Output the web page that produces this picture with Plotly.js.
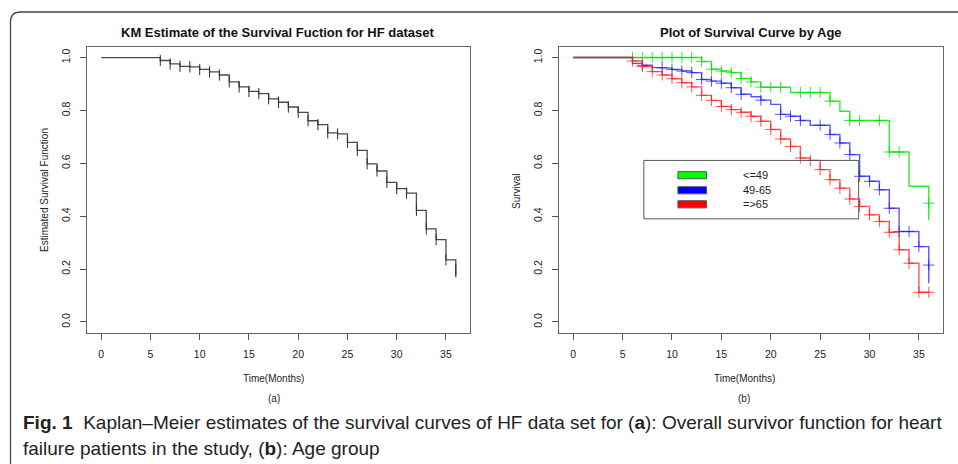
<!DOCTYPE html>
<html>
<head>
<meta charset="utf-8">
<script src="https://cdn.plot.ly/plotly-3.0.1.min.js"></script>
<style>
html,body{margin:0;padding:0;background:#fff;}
#chart{width:958px;height:464px;}
</style>
</head>
<body>
<div id="chart"></div>
<script>
// ---------- DATA ----------
// (a) overall KM estimate
const leftTimes = [0,6,7,8,9,10,11,12,13,14,15,16,17,18,19,20,21,22,23,24,25,26,27,28,29,30,31,32,33,34,35,36];
const leftSurv  = [1.0,0.989,0.976,0.967,0.965,0.955,0.946,0.934,0.908,0.889,0.872,0.864,0.844,0.831,0.813,0.793,0.761,0.746,0.715,0.711,0.679,0.649,0.598,0.571,0.528,0.504,0.487,0.422,0.352,0.311,0.235,0.169];
const leftMarks = [6,7,8,9,10,11,12,13,14,15,16,17,18,19,20,21,22,23,24,25,26,27,28,29,30,31,32,33,34,35];
const leftEndMark = 0.197;

// (b) by age group
const groupNames = ["<=49","49-65","=>65"];
const greenTimes = [0,13,14,15,16,17,18,19,22,26,27,28,32,34,36];
const greenSurv  = [1.0,0.985,0.956,0.949,0.943,0.921,0.908,0.888,0.868,0.835,0.797,0.762,0.643,0.513,0.386];
const greenMarks = [6,7,8,9,10,11,12,13,14,15,16,17,18,19,20,21,23,24,25,26,28,29,31,32,33];
const greenEndMark = 0.449;

const blueTimes = [0,6,7,8,9,10,11,12,13,14,15,16,17,18,19,20,21,22,23,24,26,27,28,29,30,31,32,33,35,36];
const blueSurv  = [1.0,0.978,0.971,0.962,0.961,0.955,0.949,0.943,0.917,0.911,0.903,0.886,0.861,0.852,0.839,0.823,0.785,0.778,0.762,0.744,0.709,0.677,0.633,0.551,0.532,0.500,0.430,0.342,0.285,0.146];
const blueMarks = [7,9,10,11,12,13,14,15,16,17,19,21,22,23,25,26,27,28,29,30,31,32,33,34,35];
const blueEndMark = 0.215;

const redTimes = [0,6,7,8,9,10,11,12,13,14,15,16,17,18,19,20,21,22,23,24,25,26,27,28,29,30,31,32,33,34,35,36];
const redSurv  = [1.0,0.987,0.966,0.947,0.934,0.920,0.905,0.889,0.857,0.838,0.815,0.803,0.793,0.778,0.759,0.728,0.692,0.664,0.620,0.611,0.576,0.538,0.506,0.465,0.437,0.405,0.380,0.339,0.273,0.222,0.112,0.112];
const redMarks = [6,7,8,9,10,11,12,13,14,15,16,17,18,19,20,21,22,23,24,25,26,27,28,29,30,31,32,33,34,35];
const redEndMark = 0.112;
const endTime = 36;

const xTicks = [0,5,10,15,20,25,30,35];
const yTicks = [0,0.2,0.4,0.6,0.8,1.0];

// ---------- helpers ----------
function stepAt(times, surv, t){
  let v = surv[0];
  for (let i=0;i<times.length;i++){ if (times[i] <= t) v = surv[i]; }
  return v;
}
const W = 958, H = 464;
const PX = p => p / W;
const PY = p => 1 - p / H;

const sans = "Liberation Sans, Arial, sans-serif";

function curve(times, surv, color, xa, ya, width){
  return {x: times, y: surv, type:'scatter', mode:'lines', line:{shape:'hv', color: color, width: width},
          xaxis: xa, yaxis: ya, hoverinfo:'skip', showlegend:false};
}
function marks(times, surv, mt, endLevel, color, xa, ya, size, symbol){
  const xs = mt.slice(); const ys = mt.map(t => stepAt(times, surv, t));
  xs.push(endTime); ys.push(endLevel);
  return {x: xs, y: ys, type:'scatter', mode:'markers', xaxis: xa, yaxis: ya, hoverinfo:'skip', showlegend:false,
          marker:{symbol:symbol, size:size, line:{color: color, width:1}}};
}

const cGreen = 'rgba(0,225,0,0.8)', cBlue = 'rgba(30,30,255,0.75)', cRed = 'rgba(255,30,30,0.75)';

const data = [
  curve(leftTimes, leftSurv, '#4a4a4a', 'x', 'y', 1.3),
  marks(leftTimes, leftSurv, leftMarks, leftEndMark, '#3a2430', 'x', 'y', 8, 'line-ns'),
  curve(greenTimes, greenSurv, cGreen, 'x2', 'y2', 1.4),
  marks(greenTimes, greenSurv, greenMarks, greenEndMark, cGreen, 'x2', 'y2', 8, 'cross-thin'),
  curve(blueTimes, blueSurv, cBlue, 'x2', 'y2', 1.4),
  marks(blueTimes, blueSurv, blueMarks, blueEndMark, cBlue, 'x2', 'y2', 8, 'cross-thin'),
  curve(redTimes, redSurv, cRed, 'x2', 'y2', 1.4),
  marks(redTimes, redSurv, redMarks, redEndMark, cRed, 'x2', 'y2', 8, 'cross-thin')
];

function xAxis(dom){
  return {domain: dom, range:[-1.44, 37.44], tickvals: xTicks, ticks:'outside', ticklen:6, tickcolor:'#555',
          showline:true, mirror:true, linecolor:'#666', linewidth:1, showgrid:false, zeroline:false,
          tickfont:{family: sans, size:10.5, color:'#222'}, ticklabelstandoff:6, fixedrange:true};
}
function yAxis(anchor){
  return {domain:[1-332.5/H, 1-47/H], range:[-0.04, 1.04], tickvals: yTicks, tickformat:'.1f', tickangle:-90,
          ticks:'outside', ticklen:6, tickcolor:'#555', showline:true, mirror:true, linecolor:'#666', linewidth:1,
          showgrid:false, zeroline:false, anchor: anchor,
          tickfont:{family: sans, size:10.5, color:'#222'}, ticklabelstandoff:6, fixedrange:true};
}

const legendRows = [
  {name: groupNames[0], fill:'#00ff00', y:0.555},
  {name: groupNames[1], fill:'#0000ff', y:0.498},
  {name: groupNames[2], fill:'#ff0000', y:0.445}
];

const shapes = [
  // outer rounded frame
  {type:'path', xref:'paper', yref:'paper',
   path:`M ${PX(10.5)},${PY(464)} L ${PX(10.5)},${PY(22)} Q ${PX(10.5)},${PY(12)} ${PX(20.5)},${PY(12)} L ${PX(958)},${PY(12)}`,
   line:{color:'#444', width:1.3}},
  // legend box
  {type:'rect', xref:'x2', yref:'y2', x0:7.15, x1:28.9, y0:0.390, y1:0.611, line:{color:'#555', width:1}, fillcolor:'rgba(255,255,255,0)'}
];
legendRows.forEach(r => shapes.push({type:'rect', xref:'x2', yref:'y2', x0:10.6, x1:13.5, y0:r.y-0.0135, y1:r.y+0.0135,
  fillcolor:r.fill, line:{color:'#555', width:1}}));

function ann(text, x, y, opts){
  return Object.assign({text:text, x:PX(x), y:PY(y), xref:'paper', yref:'paper', xanchor:'center', yanchor:'middle',
    showarrow:false, font:{family:sans, size:10.5, color:'#222'}}, opts || {});
}

const annotations = [
  ann('<b>KM Estimate of the Survival Fuction for HF dataset</b>', 277, 32, {font:{family:sans, size:13, color:'#111'}}),
  ann('<b>Plot of Survival Curve by Age</b>', 751, 32, {font:{family:sans, size:13, color:'#111'}}),
  ann('Estimated Survival Function', 44, 190, {textangle:-90, font:{family:sans, size:10, color:'#222'}}),
  ann('Survival', 516, 191, {textangle:-90, font:{family:sans, size:10, color:'#222'}}),
  ann('Time(Months)', 273, 378, {font:{family:sans, size:10, color:'#222'}}),
  ann('Time(Months)', 744, 378, {font:{family:sans, size:10, color:'#222'}}),
  ann('(a)', 274, 398, {font:{family:sans, size:10, color:'#222'}}),
  ann('(b)', 744, 398, {font:{family:sans, size:10, color:'#222'}}),
  ann('<b>Fig. 1</b>  Kaplan–Meier estimates of the survival curves of HF data set for (<b>a</b>): Overall survivor function for heart',
      21, 422, {xanchor:'left', font:{family:sans, size:19, color:'#222'}}),
  ann('failure patients in the study, (<b>b</b>): Age group', 21, 448, {xanchor:'left', font:{family:sans, size:19, color:'#222'}})
];
legendRows.forEach(r => annotations.push({text:r.name, x:17.0, y:r.y, xref:'x2', yref:'y2', xanchor:'left', yanchor:'middle',
  showarrow:false, font:{family:sans, size:11, color:'#222'}}));

const layout = {
  width: W, height: H, margin:{l:0,r:0,t:0,b:0}, paper_bgcolor:'#fff', plot_bgcolor:'#fff', showlegend:false,
  xaxis: Object.assign(xAxis([87/W, 470/W]), {anchor:'y'}),
  yaxis: yAxis('x'),
  xaxis2: Object.assign(xAxis([559/W, 943/W]), {anchor:'y2'}),
  yaxis2: yAxis('x2'),
  shapes: shapes, annotations: annotations
};

Plotly.newPlot('chart', data, layout, {displayModeBar:false, staticPlot:true});
</script>
</body>
</html>
